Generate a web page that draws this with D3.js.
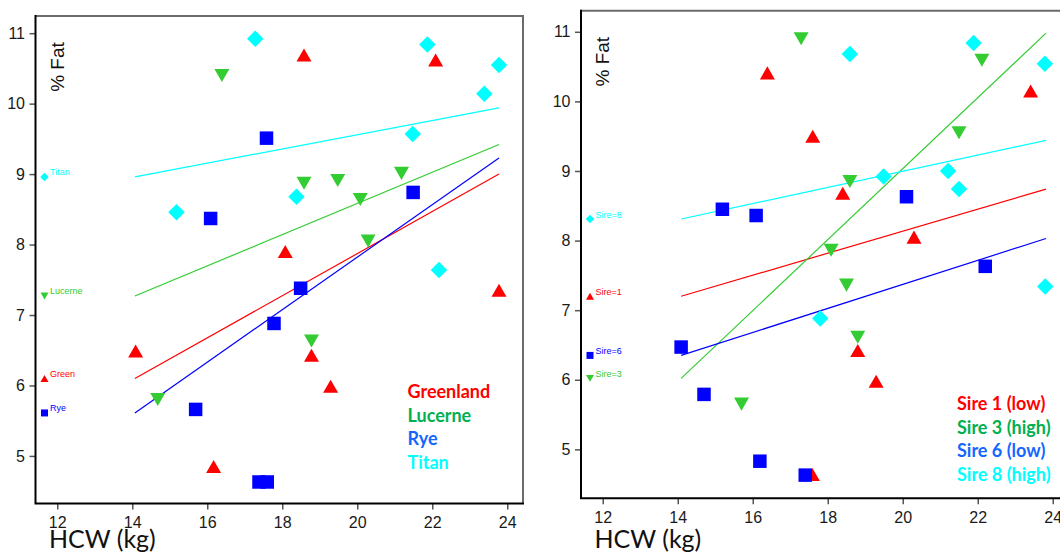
<!DOCTYPE html>
<html>
<head>
<meta charset="utf-8">
<script src="https://cdn.jsdelivr.net/npm/d3@7"></script>
<style>
  body { margin: 0; background: #fff; }
  svg { display: block; }
  .tick text { font-family: "Liberation Sans", Arial, sans-serif; font-size: 16px; fill: #1a1a1a; }
  .tick line { stroke: #555; stroke-width: 1.5; }
</style>
</head>
<body>
<div id="chart"></div>
<script>
// HCW (kg) vs % Fat, grouped by diet (left) and by sire (right)
const xTicks = [12, 14, 16, 18, 20, 22, 24];
const yTicks = [5, 6, 7, 8, 9, 10, 11];

// left panel: diet groups, [HCW, %Fat]
const greenland = [[18.58, 10.69], [22.09, 10.62], [18.08, 7.90], [14.09, 6.49], [18.78, 6.43], [19.29, 5.99], [16.17, 4.85], [23.78, 7.35]];
const lucerne = [[16.39, 10.40], [18.58, 8.87], [19.48, 8.91], [21.18, 9.01], [20.08, 8.64], [20.29, 8.05], [18.78, 6.63], [14.68, 5.80]];
const rye = [[17.58, 9.51], [16.09, 8.37], [21.49, 8.74], [18.49, 7.38], [17.78, 6.88], [15.69, 5.66], [17.38, 4.63], [17.60, 4.63]];
const titan = [[17.28, 10.92], [21.87, 10.84], [23.78, 10.55], [23.39, 10.14], [21.48, 9.57], [18.38, 8.68], [15.18, 8.46], [22.18, 7.64]];

// right panel: sire groups
const sire1 = [[16.39, 10.41], [17.60, 9.50], [18.40, 8.68], [23.41, 10.15], [20.30, 8.05], [18.80, 6.42], [19.29, 5.98], [17.59, 4.64]];
const sire3 = [[17.29, 10.90], [22.11, 10.59], [21.50, 9.55], [18.59, 8.85], [18.09, 7.86], [18.50, 7.36], [18.80, 6.61], [15.70, 5.65]];
const sire6 = [[15.19, 8.45], [16.09, 8.36], [20.10, 8.63], [22.20, 7.63], [14.09, 6.47], [14.70, 5.79], [16.19, 4.83], [17.40, 4.63]];
const sire8 = [[18.59, 10.68], [21.89, 10.84], [23.79, 10.54], [19.49, 8.92], [21.21, 9.00], [21.50, 8.74], [17.80, 6.88], [23.80, 7.34]];

// fitted lines: [x0, y0, x1, y1]
const dietFits = [[14.07, 6.10, 23.78, 9.00], [14.07, 7.27, 23.78, 9.42], [14.07, 5.61, 23.78, 9.23], [14.07, 8.96, 23.78, 9.94]];
const sireFits = [[14.09, 7.20, 23.82, 8.74], [14.09, 6.02, 23.82, 10.98], [14.09, 6.35, 23.82, 8.03], [14.09, 8.31, 23.82, 9.44]];

const dietLegend = ['Greenland', 'Lucerne', 'Rye', 'Titan'];
const dietTags = ['Green', 'Lucerne', 'Rye', 'Titan'];
const sireLegend = ['Sire 1 (low)', 'Sire 3 (high)', 'Sire 6 (low)', 'Sire 8 (high)'];
const sireTags = ['Sire=1', 'Sire=3', 'Sire=6', 'Sire=8'];

const markColors = ['#ff0000', '#33cc33', '#0000ff', '#00ffff'];
const legendColors = ['#ff0000', '#00b050', '#1466ff', '#00ffff'];

// custom symbols, size = width in px
const triUp = { draw(c, w) { const h = w * 0.87; c.moveTo(0, -h / 2); c.lineTo(w / 2, h / 2); c.lineTo(-w / 2, h / 2); c.closePath(); } };
const triDown = { draw(c, w) { const h = w * 0.87; c.moveTo(0, h / 2); c.lineTo(w / 2, -h / 2); c.lineTo(-w / 2, -h / 2); c.closePath(); } };
const square = { draw(c, w) { c.rect(-w / 2, -w / 2, w, w); } };
const diamond = { draw(c, w) { c.moveTo(0, -w / 2); c.lineTo(w / 2, 0); c.lineTo(0, w / 2); c.lineTo(-w / 2, 0); c.closePath(); } };
const shapes = [triUp, triDown, square, diamond];
const bigSize = [15, 15, 13.5, 16.5];
const smallSize = [8, 8, 7, 8.5];

const svg = d3.select('#chart').append('svg').attr('width', 1060).attr('height', 553);

function drawPanel(p) {
  const x = d3.scaleLinear().domain([11.42, 24.42]).range([p.left, p.left + 487.5]);
  const y = d3.scaleLinear().domain(p.yDomain).range([p.bottom, p.top]);
  const g = svg.append('g');

  // axes
  g.append('g').attr('transform', `translate(0,${p.bottom})`)
    .call(d3.axisBottom(x).tickValues(xTicks).tickFormat(d3.format('d')).tickSize(6).tickPadding(7))
    .call(a => a.select('.domain').remove());
  g.append('g').attr('transform', `translate(${p.left},0)`)
    .call(d3.axisLeft(y).tickValues(yTicks).tickFormat(d3.format('d')).tickSize(6).tickPadding(4.5))
    .call(a => a.select('.domain').remove());

  // frame
  const r = p.left + 487.5;
  g.append('path').attr('d', `M${p.left},${p.top}H${r}V${p.bottom}`)
    .attr('fill', 'none').attr('stroke', '#6b6b6b').attr('stroke-width', 2);
  g.append('path').attr('d', `M${p.left},${p.top - 1}V${p.bottom}H${r + 1}`)
    .attr('fill', 'none').attr('stroke', '#000').attr('stroke-width', 2);

  // fitted lines
  g.selectAll('.fit').data(p.fits).enter().append('line')
    .attr('x1', d => x(d[0])).attr('y1', d => y(d[1]))
    .attr('x2', d => x(d[2])).attr('y2', d => y(d[3]))
    .attr('stroke', (d, i) => markColors[i]).attr('stroke-width', 1.2);

  // points
  p.groups.forEach((pts, i) => {
    g.selectAll(null).data(pts).enter().append('path')
      .attr('transform', d => `translate(${x(d[0])},${y(d[1])})`)
      .attr('d', d3.symbol().type(shapes[i]).size(bigSize[i]))
      .attr('fill', markColors[i]);
  });

  // small tags at start of each line
  const tag = g.selectAll('.tag').data(p.fits).enter().append('g')
    .attr('transform', d => `translate(${x(11.66)},${y(d[1])})`);
  tag.append('path').attr('d', (d, i) => d3.symbol().type(shapes[i]).size(smallSize[i])())
    .attr('fill', (d, i) => markColors[i]);
  tag.append('text').attr('x', 5.5).attr('y', -1.5)
    .attr('font-family', '"Liberation Sans", Arial, sans-serif').attr('font-size', 9)
    .attr('fill', (d, i) => markColors[i])
    .text((d, i) => p.tags[i]);

  // legend
  g.selectAll('.leg').data(p.legend).enter().append('text')
    .attr('x', p.legX).attr('y', (d, i) => p.legY + i * p.legStep)
    .attr('font-family', 'Lato, "Open Sans", sans-serif').attr('font-weight', 700).attr('font-size', 18)
    .attr('fill', (d, i) => legendColors[i])
    .text(d => d);

  // axis titles
  g.append('text')
    .attr('transform', `translate(${p.left + 28},${p.top + 51}) rotate(-90)`)
    .attr('text-anchor', 'middle')
    .attr('font-family', '"Liberation Sans", Arial, sans-serif').attr('font-size', 19)
    .attr('fill', '#111').text('% Fat');
  g.append('text').attr('x', p.left + 13.5).attr('y', 548)
    .attr('font-family', 'Lato, "Open Sans", sans-serif').attr('font-size', 25)
    .attr('fill', '#111').text('HCW (kg)');
}

drawPanel({
  left: 35.5, top: 16, bottom: 503.4, yDomain: [4.326, 11.244],
  groups: [greenland, lucerne, rye, titan], fits: dietFits, tags: dietTags,
  legend: dietLegend, legX: 407.5, legY: 397.7, legStep: 23.8
});
drawPanel({
  left: 581, top: 10.7, bottom: 498.3, yDomain: [4.297, 11.303],
  groups: [sire1, sire3, sire6, sire8], fits: sireFits, tags: sireTags,
  legend: sireLegend, legX: 957, legY: 410, legStep: 23.5
});
</script>
</body>
</html>
